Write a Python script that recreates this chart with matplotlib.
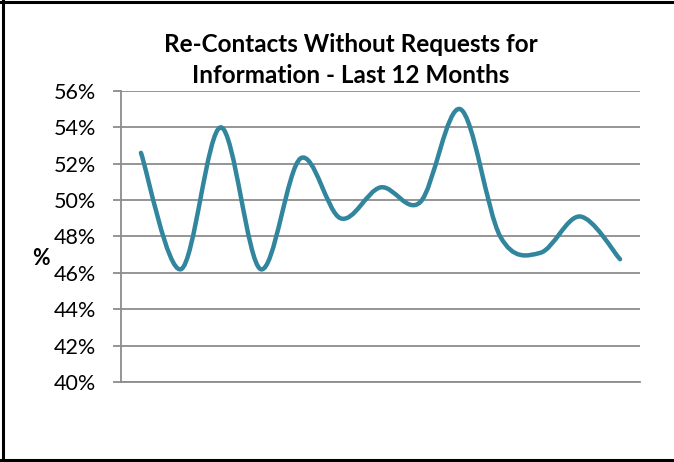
import matplotlib.pyplot as plt
import matplotlib.ticker as mticker
from matplotlib.path import Path
from matplotlib.patches import PathPatch
import numpy as np

# monthly values (%), 13 points
months = list(range(13))
values = [52.6, 46.2, 54.0, 46.2, 52.3, 49.0, 50.7, 49.9, 55.0, 48.0, 47.1, 49.1, 46.75]
y_ticks = [40, 42, 44, 46, 48, 50, 52, 54, 56]

title = 'Re-Contacts Without Requests for\nInformation - Last 12 Months'
line_color = '#31859C'
grid_color = '#8C8C8C'


def smooth_path(xs, ys):
    # Excel-style smoothed line: cubic Bezier with Catmull-Rom control points
    pts = np.column_stack([xs, ys]).astype(float)
    n = len(pts)
    verts = [pts[0]]
    codes = [Path.MOVETO]
    for i in range(n - 1):
        p_prev = pts[i - 1] if i > 0 else pts[i]
        p_next2 = pts[i + 2] if i + 2 < n else pts[i + 1]
        c1 = pts[i] + (pts[i + 1] - p_prev) / 6.0
        c2 = pts[i + 1] - (p_next2 - pts[i]) / 6.0
        verts += [c1, c2, pts[i + 1]]
        codes += [Path.CURVE4] * 3
    return Path(verts, codes)


plt.rcParams['font.family'] = ['Lato', 'DejaVu Sans']

fig = plt.figure(figsize=(6.74, 4.62), dpi=100, facecolor='white')
ax = fig.add_axes([121 / 674, 1 - 382 / 462, (640 - 121) / 674, (382 - 91) / 462])

ax.set_xlim(-0.5, len(months) - 0.5)
ax.set_ylim(40, 56)
ax.set_yticks(y_ticks)
ax.yaxis.set_major_formatter(mticker.FuncFormatter(lambda v, p: f'{v:.0f}%'))
ax.set_xticks([])

ax.grid(axis='y', color=grid_color, linewidth=1.3)
ax.set_axisbelow(True)
for side in ['top', 'right']:
    ax.spines[side].set_visible(False)
for side in ['left', 'bottom']:
    ax.spines[side].set_color(grid_color)
    ax.spines[side].set_linewidth(1.3)
ax.tick_params(axis='y', length=6, width=1.3, color=grid_color,
               labelsize=15.5, pad=12, labelcolor='black')

patch = PathPatch(smooth_path(months, values), fill=False, edgecolor=line_color,
                  linewidth=3.2, capstyle='round', joinstyle='round', zorder=3)
ax.add_patch(patch)

ax.set_ylabel('%', rotation=0, fontsize=15.5, fontweight='bold', labelpad=0,
              ha='center', va='center')
ax.yaxis.set_label_coords(-0.154, 0.426)

fig.text(351 / 674, 1 - 60 / 462, title, ha='center', va='center',
         fontsize=17.5, fontweight='bold', linespacing=1.4)

# outer frame (left, top, bottom edges visible in the original)
fig.add_artist(plt.Line2D([3 / 674, 3 / 674], [0, 1], transform=fig.transFigure,
                          color='black', linewidth=2.2))
fig.add_artist(plt.Line2D([0, 1], [1 - 2 / 462, 1 - 2 / 462], transform=fig.transFigure,
                          color='black', linewidth=2.2))
fig.add_artist(plt.Line2D([0, 1], [1 - 460 / 462, 1 - 460 / 462], transform=fig.transFigure,
                          color='black', linewidth=2.2))

fig.savefig('out.png', dpi=100, facecolor='white')
plt.close(fig)
